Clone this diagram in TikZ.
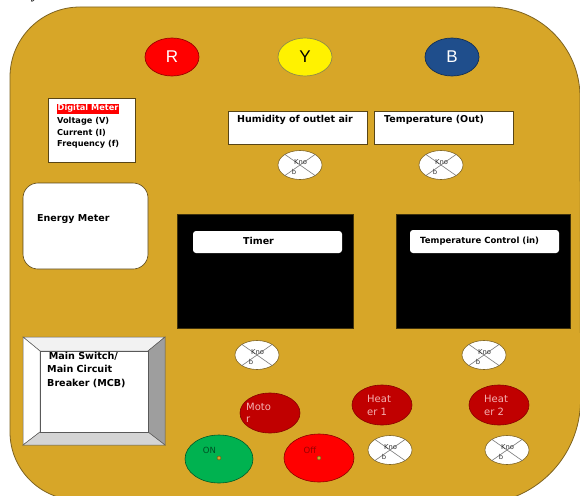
\documentclass[tikz,border=0pt]{standalone}
\usepackage{fontspec}
\setmainfont{Liberation Serif}
\newfontfamily\vbf{DejaVu Sans}
\newfontfamily\lsans{Liberation Sans}
\usetikzlibrary{shapes.geometric}
\definecolor{gold}{RGB}{215,166,40}
\definecolor{goldline}{RGB}{125,98,32}
\definecolor{darkred}{RGB}{192,0,0}
\definecolor{bblue}{RGB}{31,78,140}
\definecolor{ongreen}{RGB}{0,178,80}
\definecolor{pinktxt}{RGB}{245,178,178}
\definecolor{knobline}{RGB}{120,120,120}
\newcommand\knobnode[3]{%
  \node[knob] (#1) at (#2,#3) {};
  \draw[knobx] (#1.145) -- (#1.-35) (#1.35) -- (#1.215);
  \node[knobtxt] (#1-a) at ([xshift=0.5pt,yshift=3pt]#1.center) {Kno};
  \node[knobtxt] (#1-b) at ([xshift=-6pt,yshift=-6.5pt]#1.center) {b};
}
\begin{document}
\begin{tikzpicture}[x=1pt,y=-1pt,
  panel/.style={fill=gold,draw=goldline,line width=0.8pt},
  whitebox/.style={draw=goldline!70!black,fill=white,line width=0.6pt,inner sep=0pt},
  lbl/.style={font=\vbf\bfseries\fontsize{9.5}{10}\selectfont,inner sep=0pt,anchor=west},
  dmlbl/.style={font=\vbf\bfseries\fontsize{8.2}{9}\selectfont,inner sep=0pt,anchor=west},
  knob/.style={ellipse,draw=goldline,fill=white,line width=0.6pt,minimum width=44pt,minimum height=29pt,inner sep=0pt},
  knobx/.style={draw=knobline,line width=0.6pt},
  knobtxt/.style={font=\vbf\fontsize{6.8}{7}\selectfont,inner sep=0pt,text=black!80},
  phase/.style={ellipse,line width=0.7pt,minimum width=54pt,minimum height=38pt,inner sep=0pt,font=\lsans\fontsize{17}{17}\selectfont},
  redbtn/.style={ellipse,fill=darkred,draw=darkred!70!black,line width=0.6pt,minimum width=60pt,minimum height=40pt,inner sep=0pt},
  btntxt/.style={font=\vbf\fontsize{10}{10}\selectfont,text=pinktxt,inner sep=0pt,anchor=west},
  blackbox/.style={fill=black,draw=black!70!gold,line width=0.6pt,inner sep=0pt},
  bar/.style={fill=white,rounded corners=3pt,inner sep=0pt}
]
\useasboundingbox (0,0) rectangle (580,495);
% caption fragment
\node[font=\fontsize{16}{16}\selectfont\itshape,inner sep=0pt] (capy) at (36,-3) {y};
% panel
\draw[panel] (10,77) arc[start angle=180,end angle=270,radius=70]
  -- (490,7) arc[start angle=270,end angle=360,radius=90]
  -- (580.5,400) arc[start angle=0,end angle=90,radius=104]
  -- (78,500) arc[start angle=90,end angle=180,radius=68] -- cycle;
% phase lamps
\node[phase,fill=red,draw=red!60!black,text=white] (R) at (172,57) {R};
\node[phase,fill=yellow,draw=yellow!50!black,text=black] (Y) at (305,57) {Y};
\node[phase,fill=bblue,draw=bblue!60!black,text=white] (B) at (452,57) {B};
% digital meter
\node[whitebox,minimum width=87pt,minimum height=64pt] (dm) at (91.5,130) {};
\node[dmlbl,fill=red,text=white,inner sep=1pt] (dm1) at (56.5,108.5) {Digital Meter};
\node[dmlbl] (dm2) at (57,121.5) {Voltage (V)};
\node[dmlbl] (dm3) at (57,133) {Current (I)};
\node[dmlbl] (dm4) at (57,144) {Frequency (f)};
% humidity & temperature out
\node[whitebox,minimum width=139pt,minimum height=33pt] (hum) at (297.5,127.5) {};
\node[lbl] (humt) at (237,120) {Humidity of outlet air};
\node[whitebox,minimum width=139pt,minimum height=33pt] (tout) at (443.5,127.5) {};
\node[lbl] (toutt) at (384,120) {Temperature (Out)};
% energy meter
\node[whitebox,rounded corners=15pt,minimum width=125pt,minimum height=86pt] (em) at (85.5,226) {};
\node[lbl,font=\vbf\bfseries\fontsize{9.5}{10}\selectfont] (emt) at (37,219) {Energy Meter};
% timer
\node[blackbox,minimum width=176pt,minimum height=114pt] (tim) at (265,271) {};
\node[bar,minimum width=149pt,minimum height=22pt] (timbar) at (267.5,242) {};
\node[lbl,anchor=center] (timt) at (258.5,241) {Timer};
% temperature control
\node[blackbox,minimum width=174pt,minimum height=114pt] (tc) at (483,271) {};
\node[bar,minimum width=149pt,minimum height=23pt] (tcbar) at (484.5,241.5) {};
\node[lbl,font=\vbf\bfseries\fontsize{8.5}{9}\selectfont] (tct) at (420,241) {Temperature Control (in)};
% main switch (bevel)
\coordinate (o1) at (23,337); \coordinate (o2) at (165,337);
\coordinate (o3) at (165,445); \coordinate (o4) at (23,445);
\coordinate (i1) at (40,351); \coordinate (i2) at (148,351);
\coordinate (i3) at (148,432); \coordinate (i4) at (40,432);
\begin{scope}[draw=black!65,line width=0.5pt]
\filldraw[fill=black!5] (o1) -- (o2) -- (i2) -- (i1) -- cycle;
\filldraw[fill=white] (o1) -- (i1) -- (i4) -- (o4) -- cycle;
\filldraw[fill=black!38] (o2) -- (o3) -- (i3) -- (i2) -- cycle;
\filldraw[fill=black!17] (o4) -- (i4) -- (i3) -- (o3) -- cycle;
\end{scope}
\node[draw=black!65,fill=white,line width=0.5pt,minimum width=108pt,minimum height=81pt,inner sep=0pt] (mcb) at (94,391.5) {};
\node[lbl,font=\vbf\bfseries\fontsize{9.6}{13.5}\selectfont,align=left,anchor=north west] (mcbt) at (47,352) {\,Main Switch/\\Main Circuit\\Breaker (MCB)};
% knobs
\knobnode{k1}{300}{165}
\knobnode{k2}{441}{165}
\knobnode{k3}{257}{355}
\knobnode{k4}{484}{355}
\knobnode{k5}{390}{450}
\knobnode{k6}{507}{450}
% motor and heaters
\node[redbtn] (mot) at (270,413) {};
\node[btntxt] (mott) at (246,406.5) {Moto};
\node[btntxt] (mott2) at (246,420) {r};
\node[redbtn] (h1) at (382,405) {};
\node[btntxt] (h1t) at (367,399) {Heat};
\node[btntxt] (h1t2) at (367,412) {er 1};
\node[redbtn] (h2) at (499,405) {};
\node[btntxt] (h2t) at (484,399) {Heat};
\node[btntxt] (h2t2) at (484,412) {er 2};
% on / off
\node[ellipse,fill=ongreen,draw=ongreen!50!black,line width=0.6pt,minimum width=68pt,minimum height=48pt,inner sep=0pt] (on) at (219,459) {};
\node[font=\vbf\fontsize{8.5}{9}\selectfont,text=ongreen!45!black,inner sep=0pt] (ont) at (209.5,450) {ON};
\node[circle,fill=gold,draw=goldline!80!black,line width=0.4pt,minimum size=4pt,inner sep=0pt] (ond) at (219,458) {};
\node[ellipse,fill=red,draw=red!55!black,line width=0.6pt,minimum width=70pt,minimum height=48pt,inner sep=0pt] (off) at (319,458) {};
\node[font=\vbf\fontsize{8.5}{9}\selectfont,text=red!60!black,inner sep=0pt] (offt) at (310,450) {Off};
\node[circle,fill=gold,draw=goldline!80!black,line width=0.4pt,minimum size=4pt,inner sep=0pt] (offd) at (319,458) {};
\end{tikzpicture}
\end{document}
